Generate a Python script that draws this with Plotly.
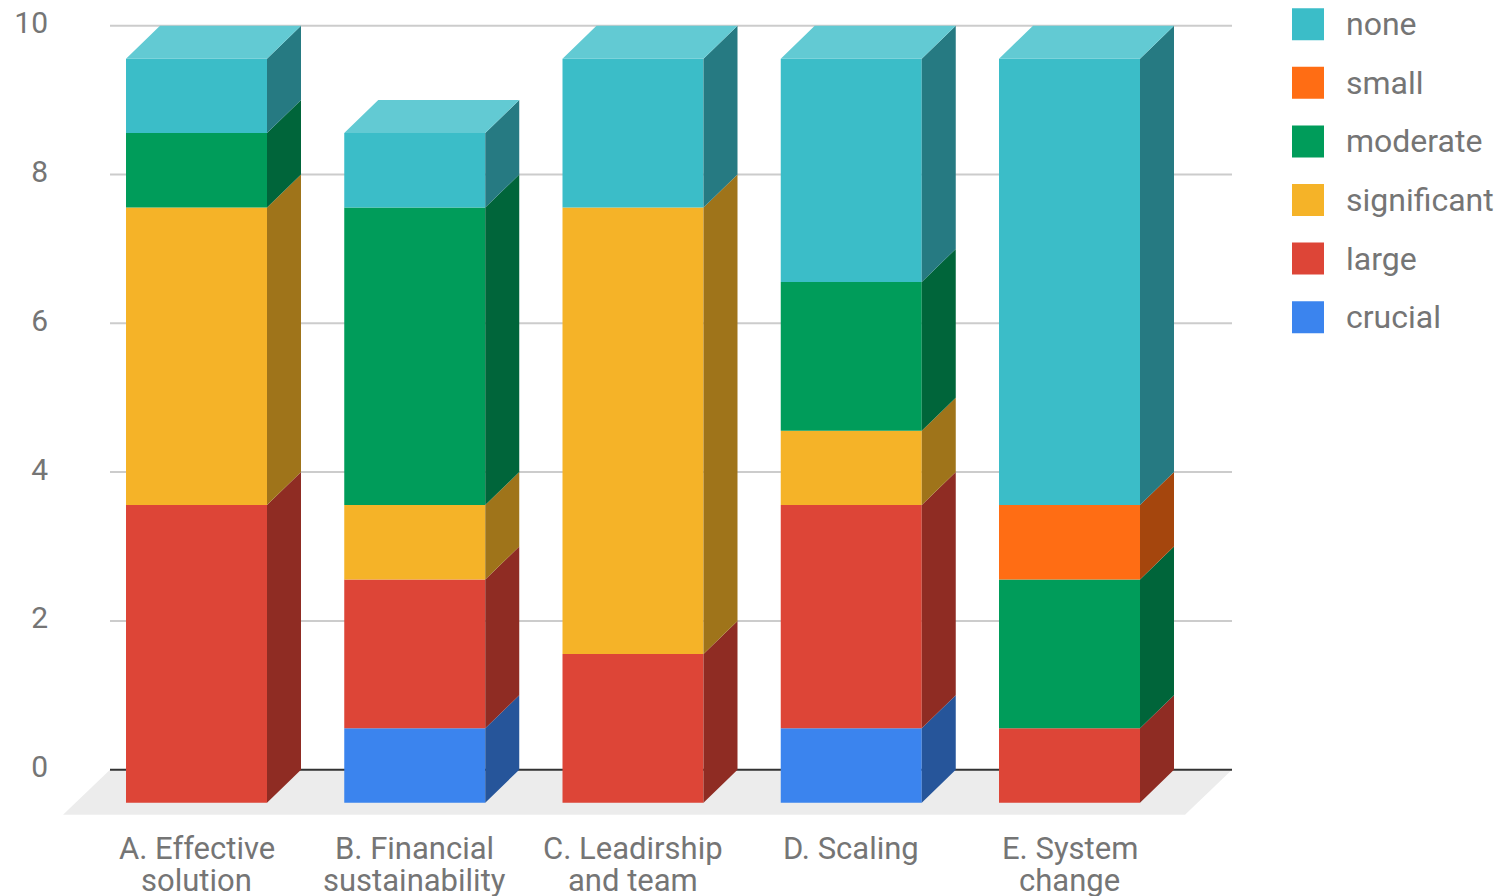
import plotly.graph_objects as go

# ---------------- data ----------------
categories = ["A. Effective<br>solution", "B. Financial<br>sustainability",
              "C. Leadirship<br>and team", "D. Scaling", "E. System<br>change"]
series_names = ["none", "small", "moderate", "significant", "large", "crucial"]
none = [1, 1, 2, 3, 6]
small = [0, 0, 0, 0, 1]
moderate = [1, 4, 0, 2, 2]
significant = [4, 1, 6, 1, 0]
large = [4, 2, 2, 3, 1]
crucial = [0, 1, 0, 1, 0]
y_ticks = [0, 2, 4, 6, 8, 10]

data = {"none": none, "small": small, "moderate": moderate,
        "significant": significant, "large": large, "crucial": crucial}
stack_order = ["crucial", "large", "significant", "moderate", "small", "none"]

colors = {"none": "#3bbdc8", "small": "#ff6d14", "moderate": "#009c5a",
          "significant": "#f5b328", "large": "#dd4537", "crucial": "#3b84ee"}


def shade(hexc, f):
    r, g, b = int(hexc[1:3], 16), int(hexc[3:5], 16), int(hexc[5:7], 16)
    return "#%02x%02x%02x" % (int(r * f), int(g * f), int(b * f))


def tint(hexc, f):
    r, g, b = int(hexc[1:3], 16), int(hexc[3:5], 16), int(hexc[5:7], 16)
    return "#%02x%02x%02x" % (int(r + (255 - r) * f), int(g + (255 - g) * f), int(b + (255 - b) * f))


# ---------------- geometry (pixel layout -> axis units) ----------------
FIG_W, FIG_H = 1496, 896
L, R, T, B = 55, 1250, 5, 830
X0PX, XUNIT = 196.5, 218.25
Y0PX, YUNIT = 769.7, 74.4
xrange_ = [(L - X0PX) / XUNIT, (R - X0PX) / XUNIT]
yrange_ = [(Y0PX - B) / YUNIT, (Y0PX - T) / YUNIT]
BAR_W = 141 / XUNIT
DX = 34 / XUNIT
DY = 33 / YUNIT
BX0 = (110 - X0PX) / XUNIT
BX1 = (1232 - X0PX) / XUNIT
FDX = 47 / XUNIT
FDY = 45 / YUNIT

FONT = "Roboto"
TXT = "#757575"

fig = go.Figure()

n = len(categories)
xs = list(range(n))
bases = {s: [0.0] * n for s in stack_order}
top_of = [-DY] * n
for i in range(n):
    b = -DY
    for s in stack_order:
        bases[s][i] = b
        b += data[s][i]
    top_of[i] = b

# front faces
for s in stack_order:
    fig.add_trace(go.Bar(
        x=xs, y=data[s], base=bases[s], width=BAR_W,
        marker=dict(color=colors[s], line=dict(width=0)),
        name=s, showlegend=False, hoverinfo="skip"))

# side faces
for s in stack_order:
    px, py = [], []
    for i in range(n):
        v = data[s][i]
        if v <= 0:
            continue
        b = bases[s][i]
        xr = i + BAR_W / 2
        px += [xr, xr + DX, xr + DX, xr, xr, None]
        py += [b, b + DY, b + v + DY, b + v, b, None]
    if px:
        fig.add_trace(go.Scatter(x=px, y=py, mode="lines", fill="toself",
                                 fillcolor=shade(colors[s], 0.65),
                                 line=dict(width=0), hoverinfo="skip", showlegend=False))

# top faces (topmost segment of each stack)
for s in stack_order:
    px, py = [], []
    for i in range(n):
        topmost = [t for t in stack_order if data[t][i] > 0][-1]
        if topmost != s:
            continue
        tv = top_of[i]
        xl, xr = i - BAR_W / 2, i + BAR_W / 2
        px += [xl, xl + DX, xr + DX, xr, xl, None]
        py += [tv, tv + DY, tv + DY, tv, tv, None]
    if px:
        fig.add_trace(go.Scatter(x=px, y=py, mode="lines", fill="toself",
                                 fillcolor=tint(colors[s], 0.2),
                                 line=dict(width=0), hoverinfo="skip", showlegend=False))

shapes = []
# gridlines (back wall)
for t in y_ticks[1:]:
    shapes.append(dict(type="line", xref="x", yref="y", x0=BX0, x1=BX1, y0=t, y1=t,
                       line=dict(color="#cccccc", width=2), layer="below"))
# floor
shapes.append(dict(type="path", xref="x", yref="y",
                   path="M %f,0 L %f,0 L %f,%f L %f,%f Z" % (BX0, BX1, BX1 - FDX, -FDY, BX0 - FDX, -FDY),
                   fillcolor="#ececec", line=dict(width=0), layer="below"))
# baseline
shapes.append(dict(type="line", xref="x", yref="y", x0=BX0, x1=BX1, y0=0, y1=0,
                   line=dict(color="#333333", width=2), layer="below"))

PW, PH = R - L, B - T


def pxx(p):
    return (p - L) / PW


def pxy(p):
    return 1 - (p - T) / PH


annotations = []
# category labels (two lines each)
line1_y = pxy(848.7)
line2_y = pxy(880.0)
for i, c in enumerate(categories):
    parts = c.split("<br>")
    for k, part in enumerate(parts):
        annotations.append(dict(x=i, y=line1_y if k == 0 else line2_y, xref="x", yref="paper",
                                text=part, showarrow=False, xanchor="center", yanchor="middle",
                                borderpad=0,
                                font=dict(family=FONT, size=31, color=TXT)))

# legend (custom, large swatches)
leg_y0, leg_dy = 24.2, 58.6
for k, s in enumerate(series_names):
    cy = leg_y0 + k * leg_dy
    shapes.append(dict(type="rect", xref="paper", yref="paper",
                       x0=pxx(1292), x1=pxx(1324), y0=pxy(cy - 16), y1=pxy(cy + 16),
                       fillcolor=colors[s], line=dict(width=0)))
    annotations.append(dict(x=pxx(1344), y=pxy(cy), xref="paper", yref="paper",
                            text=s, showarrow=False, xanchor="left", yanchor="middle",
                            font=dict(family=FONT, size=32, color=TXT)))

fig.update_layout(
    width=FIG_W, height=FIG_H,
    margin=dict(l=L, r=FIG_W - R, t=T, b=FIG_H - B, autoexpand=False),
    paper_bgcolor="white", plot_bgcolor="white",
    barmode="overlay", showlegend=False,
    shapes=shapes, annotations=annotations,
    xaxis=dict(range=xrange_, showgrid=False, zeroline=False, showline=False,
               showticklabels=False, ticks="", fixedrange=True),
    yaxis=dict(range=yrange_, tickvals=y_ticks, showgrid=False, zeroline=False,
               showline=False, ticks="", ticklabelstandoff=6, ticklabelshift=-3,
               tickfont=dict(family=FONT, size=30, color=TXT), fixedrange=True),
)

fig.write_html("out.html")
